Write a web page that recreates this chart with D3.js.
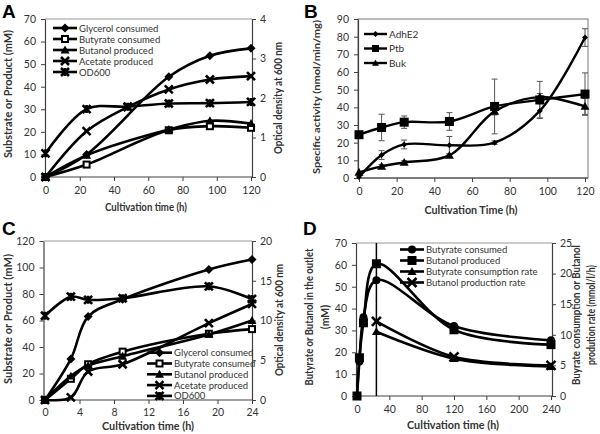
<!DOCTYPE html>
<html><head><meta charset="utf-8">
<script src="https://cdn.jsdelivr.net/npm/d3@7"></script>
<style>
body{margin:0;background:#fff}
svg{display:block}
text{font-family:Lato,"Liberation Sans",Arial,sans-serif}
</style>
</head><body>
<svg id="c" width="600" height="434"></svg>
<script>
// ---------- DATA ----------
// Panel A
const timeA = [0, 24, 48, 72, 96, 120];
const glycerolA = [0, 10, null, 44.4, 53.7, 57];
const butyrateA = [0, 5.5, null, 20.7, 22.5, 21.8];
const butanolA = [0, 9.6, null, 21, 24.9, 23.7];
const acetateA = [0, 20.3, 31, 38.8, 43.2, 44.7];
const odA = [0.6, 1.72, 1.78, 1.86, 1.87, 1.9];
const xTicksA = [0, 20, 40, 60, 80, 100, 120];
const yTicksA = [0, 10, 20, 30, 40, 50, 60, 70];
const y2TicksA = [0, 1, 2, 3, 4];

// Panel B
const timeB = [0, 12, 24, 48, 72, 96, 120];
const adhE2 = [0.5, 13, 19, 18.5, 20, 38, 79.5];
const adhE2Err = [0, 2.5, 2.5, 5, 1, 4, 5];
const ptb = [24.5, 28.6, 31.6, 32, 40.5, 44.2, 47.5];
const ptbErr = [0, 7.5, 3.5, 5, 15.5, 10.5, 12];
const buk = [3.2, 6.6, 8.8, 12.8, 37.7, 45.8, 40.5];
const bukErr = [0, 1, 1, 1, 2, 2, 4.5];
const xTicksB = [0, 20, 40, 60, 80, 100, 120];
const yTicksB = [0, 10, 20, 30, 40, 50, 60, 70, 80, 90];

// Panel C
const timeC = [0, 3, 5, 9, 19, 24];
const glycerolC = [0, 31, 63, 76, 98.5, 106];
const butyrateC = [0, 16, 27, 36.5, 50, 53.5];
const butanolC = [0, 18, 26, 33, 49.5, 60];
const acetateC = [0, 2, 21.5, 27, 58, 72.5];
const odC = [10.6, 13.0, 12.6, 12.8, 14.3, 12.7];
const xTicksC = [0, 4, 8, 12, 16, 20, 24];
const yTicksC = [0, 20, 40, 60, 80, 100, 120];
const y2TicksC = [0, 5, 10, 15, 20];

// Panel D
const timeD = [0, 3, 8, 24, 120, 240];
const butyrateD = [0, 15.8, 36, 53, 32, 25.5];
const butanolD = [0, 17.5, 33.5, 60.5, 30.3, 23.5];
const timeRateD = [24, 120, 240];
const butyrateRateD = [10.5, 6.1, 4.8];
const butanolRateD = [12.2, 6.4, 5.0];
const xTicksD = [0, 40, 80, 120, 160, 200, 240];
const yTicksD = [0, 10, 20, 30, 40, 50, 60, 70];
const y2TicksD = [0, 5, 10, 15, 20, 25];
const markerTimeD = 24;

// ---------- DRAWING ----------
const svg = d3.select('#c');
const INK = '#000';
const AX = '#404040';
const TXT = '#333';
const fmt = d => String(d);

function drawMarker(g, type, cx, cy, r) {
  if (type === 'diamond') {
    g.append('path').attr('d', `M${cx},${cy-r}L${cx+r},${cy}L${cx},${cy+r}L${cx-r},${cy}Z`).attr('fill', INK);
  } else if (type === 'osquare') {
    g.append('rect').attr('x', cx-r+1).attr('y', cy-r+1).attr('width', 2*r-2).attr('height', 2*r-2)
      .attr('fill', '#fff').attr('stroke', INK).attr('stroke-width', 2);
  } else if (type === 'square') {
    g.append('rect').attr('x', cx-r).attr('y', cy-r).attr('width', 2*r).attr('height', 2*r).attr('fill', INK);
  } else if (type === 'triangle') {
    g.append('path').attr('d', `M${cx},${cy-r}L${cx+r},${cy+r*0.75}L${cx-r},${cy+r*0.75}Z`).attr('fill', INK);
  } else if (type === 'circle') {
    g.append('circle').attr('cx', cx).attr('cy', cy).attr('r', r).attr('fill', INK);
  } else if (type === 'x' || type === 'star') {
    g.append('path').attr('d', `M${cx-r},${cy-r}L${cx+r},${cy+r}M${cx-r},${cy+r}L${cx+r},${cy-r}` +
      (type === 'star' ? `M${cx},${cy-r}L${cx},${cy+r}` : ''))
      .attr('stroke', INK).attr('stroke-width', 2.6).attr('fill', 'none');
  }
}

function title(g, t, rotate) {
  const el = g.append('text')
    .attr('transform', rotate ? `translate(${t.x},${t.y}) rotate(-90)` : `translate(${t.x},${t.y})`)
    .attr('text-anchor', 'middle').attr('font-size', t.fs || 10.5).attr('font-weight', 'bold')
    .attr('fill', TXT).text(t.text);
  if (t.len) el.attr('textLength', t.len).attr('lengthAdjust', 'spacingAndGlyphs');
}

function panel(cfg) {
  const g = svg.append('g');
  const x = d3.scaleLinear().domain(cfg.xdom).range(cfg.xr);
  const yL = d3.scaleLinear().domain(cfg.ydom).range([cfg.b, cfg.t]);
  const yR = cfg.y2dom ? d3.scaleLinear().domain(cfg.y2dom).range([cfg.b, cfg.t]) : null;

  // frame
  if (cfg.box) {
    g.append('rect').attr('x', cfg.l).attr('y', cfg.t).attr('width', cfg.r - cfg.l).attr('height', cfg.b - cfg.t)
      .attr('fill', 'none').attr('stroke', '#777').attr('stroke-width', 1);
  } else {
    g.append('line').attr('x1', cfg.l).attr('x2', cfg.r).attr('y1', cfg.t).attr('y2', cfg.t)
      .attr('stroke', '#999').attr('stroke-width', 1);
  }

  // left axis
  g.append('g').attr('transform', `translate(${cfg.l},0)`)
    .call(d3.axisLeft(yL).tickValues(cfg.yticks).tickFormat(fmt).tickSize(4).tickPadding(5).tickSizeOuter(0));
  // right axis
  if (yR) {
    g.append('g').attr('transform', `translate(${cfg.r},0)`)
      .call(d3.axisRight(yR).tickValues(cfg.y2ticks).tickFormat(fmt).tickSize(4).tickPadding(4).tickSizeOuter(0));
  }
  // bottom axis
  const ba = g.append('g').attr('transform', `translate(0,${cfg.b})`)
    .call(d3.axisBottom(x).tickValues(cfg.xticks).tickFormat(fmt).tickSize(4).tickPadding(cfg.xpad || 6).tickSizeOuter(0));
  ba.select('.domain').remove();
  g.append('line').attr('x1', cfg.l).attr('x2', cfg.r).attr('y1', cfg.b).attr('y2', cfg.b)
    .attr('stroke', AX).attr('stroke-width', 1.2);
  g.selectAll('.domain').attr('stroke', AX).attr('stroke-width', 1.2);
  g.selectAll('.tick line').attr('stroke', AX);
  g.selectAll('.tick text').attr('font-size', cfg.tfs || 10.5).attr('fill', TXT)
    .style('font-family', 'Lato, "Liberation Sans", Arial, sans-serif');

  // extra vertical line
  if (cfg.vline != null) {
    g.append('line').attr('x1', x(cfg.vline)).attr('x2', x(cfg.vline)).attr('y1', cfg.t).attr('y2', cfg.b)
      .attr('stroke', INK).attr('stroke-width', 1.5);
  }

  // series
  const curve = d3.curveCatmullRom.alpha(0.5);
  cfg.series.forEach(s => {
    const ys = s.axis === 'R' ? yR : yL;
    const pts = s.t.map((t, i) => ({ t, v: s.v[i], e: s.err ? s.err[i] : 0 })).filter(p => p.v != null);
    if (s.err) {
      pts.forEach(p => {
        if (!p.e) return;
        const cx = x(p.t);
        g.append('path').attr('d', `M${cx},${ys(p.v - p.e)}V${ys(p.v + p.e)}M${cx-3},${ys(p.v - p.e)}H${cx+3}M${cx-3},${ys(p.v + p.e)}H${cx+3}`)
          .attr('stroke', '#555').attr('stroke-width', 1).attr('fill', 'none');
      });
    }
    g.append('path').datum(pts)
      .attr('d', d3.line().x(p => x(p.t)).y(p => ys(p.v)).curve(curve))
      .attr('fill', 'none').attr('stroke', INK).attr('stroke-width', cfg.lw || 2.6);
  });
  cfg.series.forEach(s => {
    const ys = s.axis === 'R' ? yR : yL;
    s.t.forEach((t, i) => {
      if (s.v[i] == null) return;
      drawMarker(g, s.m, x(t), ys(s.v[i]), s.r || 4);
    });
  });

  // legend
  const lg = cfg.legend;
  cfg.series.forEach((s, i) => {
    const yy = lg.y + i * lg.dy;
    g.append('line').attr('x1', lg.x).attr('x2', lg.x + lg.w).attr('y1', yy).attr('y2', yy)
      .attr('stroke', INK).attr('stroke-width', cfg.lw || 2.6);
    drawMarker(g, s.m, lg.x + lg.w / 2, yy, s.lr || s.r || 4);
    g.append('text').attr('x', lg.x + lg.w + 2).attr('y', yy + 3.5).attr('font-size', lg.fs || 10)
      .attr('fill', TXT).text(s.name);
  });

  // titles
  title(g, cfg.xt, false);
  cfg.yt.forEach(tt => title(g, tt, true));
  g.append('text').attr('x', cfg.letter.x).attr('y', cfg.letter.y).attr('font-size', 19)
    .attr('font-weight', 'bold').attr('fill', INK)
    .style('font-family', 'Arial, "Liberation Sans", sans-serif').text(cfg.letter.text);
}

// Panel A
panel({
  l: 45, r: 252, t: 19, b: 177, xdom: [0, 120], xr: [45.5, 251], ydom: [0, 70], y2dom: [0, 4],
  xticks: xTicksA, yticks: yTicksA, y2ticks: y2TicksA,
  series: [
    { name: 'Glycerol consumed', t: timeA, v: glycerolA, m: 'diamond', r: 4.5 },
    { name: 'Butyrate consumed', t: timeA, v: butyrateA, m: 'osquare', r: 4 },
    { name: 'Butanol produced', t: timeA, v: butanolA, m: 'triangle', r: 4.5 },
    { name: 'Acetate produced', t: timeA, v: acetateA, m: 'x', r: 4 },
    { name: 'OD600', t: timeA, v: odA, m: 'star', r: 4, axis: 'R' }
  ],
  legend: { x: 53, y: 28, dy: 11, w: 24, fs: 9.5 },
  xt: { x: 146, y: 211, text: 'Cultivation time (h)', len: 82 },
  yt: [{ x: 12, y: 94, text: 'Substrate or Product (mM)', len: 128 },
       { x: 282, y: 98, text: 'Optical density at 600 nm', len: 112 }],
  letter: { x: 2, y: 18, text: 'A' }
});

// Panel B
panel({
  l: 358, r: 588, t: 19, b: 178, box: true, xdom: [0, 120], xr: [359, 585], ydom: [0, 90],
  xticks: xTicksB, yticks: yTicksB, lw: 2.4,
  series: [
    { name: 'AdhE2', t: timeB, v: adhE2, err: adhE2Err, m: 'diamond', r: 3 },
    { name: 'Ptb', t: timeB, v: ptb, err: ptbErr, m: 'square', r: 4.5, lr: 3.5 },
    { name: 'Buk', t: timeB, v: buk, err: bukErr, m: 'triangle', r: 4.5, lr: 3.5 }
  ],
  legend: { x: 364, y: 34, dy: 14.5, w: 23, fs: 10 },
  xt: { x: 471, y: 214, text: 'Cultivation Time (h)', len: 93 },
  yt: [{ x: 320, y: 97, text: 'Specific activity (nmol/min/mg)', len: 154, fs: 10 }],
  letter: { x: 304, y: 17.5, text: 'B' }
});

// Panel C
panel({
  l: 43.5, r: 252, t: 241, b: 400, xdom: [0, 24], xr: [45, 252], ydom: [0, 120], y2dom: [0, 20],
  xticks: xTicksC, yticks: yTicksC, y2ticks: y2TicksC, xpad: 5,
  series: [
    { name: 'Glycerol consumed', t: timeC, v: glycerolC, m: 'diamond', r: 4.5 },
    { name: 'Butyrate consumed', t: timeC, v: butyrateC, m: 'osquare', r: 4 },
    { name: 'Butanol produced', t: timeC, v: butanolC, m: 'triangle', r: 4.5 },
    { name: 'Acetate produced', t: timeC, v: acetateC, m: 'x', r: 4 },
    { name: 'OD600', t: timeC, v: odC, m: 'star', r: 4, axis: 'R' }
  ],
  legend: { x: 147, y: 352.7, dy: 10.8, w: 25, fs: 9.5 },
  xt: { x: 148, y: 430, text: 'Cultivation time (h)', len: 92 },
  yt: [{ x: 12, y: 319, text: 'Substrate or Product (mM)', len: 130 },
       { x: 283, y: 320, text: 'Optical density at 600 nm', len: 112 }],
  letter: { x: 2, y: 235, text: 'C' }
});

// Panel D
panel({
  l: 356, r: 552, t: 243, b: 396, xdom: [0, 240], xr: [357, 551], ydom: [0, 70], y2dom: [0, 25],
  xticks: xTicksD, yticks: yTicksD, y2ticks: y2TicksD, vline: markerTimeD,
  series: [
    { name: 'Butyrate consumed', t: timeD, v: butyrateD, m: 'circle', r: 4 },
    { name: 'Butanol produced', t: timeD, v: butanolD, m: 'square', r: 4.5 },
    { name: 'Butyrate consumption rate', t: timeRateD, v: butyrateRateD, m: 'triangle', r: 4.5, axis: 'R' },
    { name: 'Butanol production rate', t: timeRateD, v: butanolRateD, m: 'x', r: 4.5, axis: 'R' }
  ],
  legend: { x: 400, y: 249.5, dy: 11, w: 24, fs: 9.5 },
  xt: { x: 453, y: 429, text: 'Cultivation time (h)', len: 92 },
  yt: [{ x: 313, y: 317, text: 'Butyrate or Butanol in the outlet', len: 137 },
       { x: 329, y: 317, text: '(mM)' },
       { x: 580, y: 315, text: 'Buyrate consumption or Butanol', len: 140 },
       { x: 595, y: 315, text: 'prodution rate (mmol/l/h)', len: 100 }],
  letter: { x: 303, y: 235, text: 'D' }
});
</script>
</body></html>
